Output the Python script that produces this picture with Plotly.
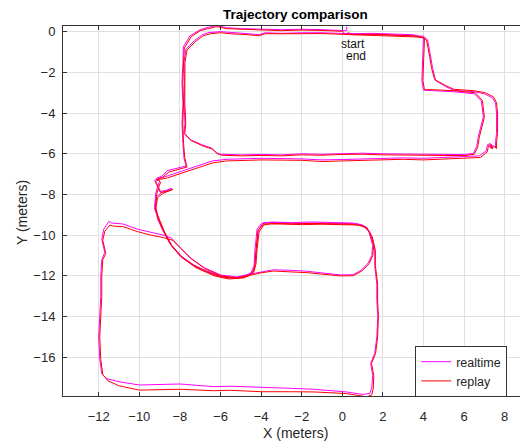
import plotly.graph_objects as go

# ---- data ----
realtime_points = [
    (0.22, 0.25), (0.22, 0.05), (-1.0, 0.1), (-2.0, 0.12), (-3.0, 0.1), (-4.0, 0.12), (-5.0, 0.15),
    (-5.7, 0.2), (-6.2, 0.3), (-6.6, 0.22), (-7.0, 0.1), (-7.5, -0.2), (-7.83, -0.74), (-7.85, -1.5),
    (-7.9, -2.5), (-7.85, -3.5), (-7.9, -4.5), (-7.85, -5.5), (-7.8, -6.2), (-7.7, -6.6), (-8.2, -6.72),
    (-8.6, -6.82), (-8.9, -7.1), (-9.15, -7.2), (-9.0, -7.35), (-9.1, -7.6), (-9.0, -7.85), (-8.7, -7.8),
    (-8.4, -7.7), (-8.9, -7.9), (-9.15, -8.1), (-9.23, -8.6), (-9.1, -9.2), (-8.85, -9.75), (-8.5, -10.4),
    (-8.0, -11.0), (-7.35, -11.45), (-6.7, -11.75), (-6.0, -12.0), (-5.3, -12.1), (-4.7, -12.0),
    (-4.4, -11.8), (-4.3, -11.4), (-4.25, -10.7), (-4.15, -9.8), (-3.9, -9.38), (-3.0, -9.38),
    (-2.0, -9.42), (-1.0, -9.4), (0.0, -9.42), (0.8, -9.45), (1.2, -9.6), (1.45, -10.05), (1.6, -10.7),
    (1.6, -11.5), (1.7, -12.4), (1.7, -13.2), (1.75, -14.0), (1.7, -15.0), (1.6, -15.8), (1.4, -16.3),
    (1.5, -16.9), (1.45, -17.5), (1.36, -17.78), (1.0, -17.82), (0.2, -17.7), (-1.4, -17.57),
    (-2.6, -17.52), (-4.0, -17.47), (-5.5, -17.42), (-6.35, -17.44), (-8.0, -17.31), (-10.0, -17.36),
    (-11.0, -17.2), (-11.6, -17.05), (-11.85, -16.8), (-11.95, -16.1), (-12.0, -15.0), (-11.95, -14.0),
    (-11.9, -13.0), (-11.9, -12.0), (-11.85, -11.2), (-11.7, -10.85), (-11.85, -10.2), (-11.75, -9.7),
    (-11.5, -9.32), (-11.35, -9.4), (-10.8, -9.45), (-10.1, -9.7), (-9.5, -9.85), (-8.8, -10.0),
    (-8.4, -10.15), (-8.0, -10.6), (-7.5, -11.1), (-6.8, -11.6), (-6.0, -11.95), (-5.2, -12.05),
    (-4.5, -11.9), (-4.0, -11.8), (-3.4, -11.7), (-2.6, -11.72), (-1.75, -11.77), (-0.1, -11.95),
    (0.54, -11.94), (0.96, -11.7), (1.28, -11.36), (1.45, -11.0), (1.5, -10.5), (1.3, -9.8), (1.0, -9.5),
    (0.5, -9.4), (-0.5, -9.38), (-1.5, -9.35), (-2.5, -9.38), (-3.5, -9.35), (-4.0, -9.45), (-4.2, -9.7),
    (-4.3, -10.7), (-4.35, -11.5), (-4.5, -11.85), (-4.9, -12.05), (-5.6, -12.1), (-6.3, -11.95),
    (-7.2, -11.55), (-7.9, -11.05), (-8.4, -10.5), (-8.8, -9.8), (-9.05, -9.2), (-9.25, -8.7),
    (-9.2, -8.0), (-9.1, -7.6), (-9.25, -7.3), (-9.0, -7.2), (-8.65, -7.1), (-8.0, -6.88), (-7.0, -6.52),
    (-6.4, -6.35), (-5.7, -6.27), (-4.0, -6.22), (-2.0, -6.25), (-1.0, -6.3), (0.0, -6.28), (1.0, -6.25),
    (2.0, -6.22), (3.0, -6.2), (4.0, -6.22), (5.0, -6.18), (6.1, -6.15), (6.75, -6.1), (7.1, -5.85),
    (7.15, -5.55), (7.3, -5.5), (7.35, -5.7), (7.25, -5.65), (7.45, -5.6), (7.55, -5.7), (7.55, -5.4),
    (7.6, -5.0), (7.6, -4.0), (7.55, -3.5), (7.4, -3.25), (7.0, -3.05), (6.5, -2.95), (5.5, -2.88),
    (5.1, -2.7), (4.6, -2.4), (4.45, -1.8), (4.35, -1.2), (4.2, -0.4), (4.0, -0.22), (3.0, -0.18),
    (2.0, -0.15), (1.0, -0.12), (0.2, -0.1), (-1.0, -0.05), (-2.0, -0.05), (-3.0, -0.08), (-3.8, -0.05),
    (-4.1, -0.15), (-4.6, -0.1), (-5.5, -0.05), (-6.0, 0.0), (-6.56, -0.04), (-6.9, -0.15), (-7.3, -0.45),
    (-7.7, -0.86), (-7.8, -1.5), (-7.78, -2.5), (-7.8, -3.5), (-7.75, -4.5), (-7.8, -5.0), (-7.5, -5.3),
    (-6.93, -5.55), (-6.43, -5.72), (-6.2, -5.95), (-6.0, -6.02), (-5.0, -6.05), (-4.0, -6.03),
    (-3.0, -6.05), (-2.0, -6.0), (-1.0, -6.02), (0.0, -5.98), (1.0, -5.97), (2.0, -6.0), (3.0, -6.0),
    (4.0, -6.02), (5.0, -6.03), (6.0, -6.04), (6.45, -5.98), (6.62, -5.65), (6.7, -5.16), (6.95, -4.18),
    (6.85, -3.4), (6.5, -3.05), (5.5, -2.95), (4.5, -2.9), (4.0, -2.87), (3.92, -2.4), (3.97, -1.5),
    (4.0, -0.3), (3.5, -0.15), (2.5, -0.1), (1.5, -0.08), (0.5, -0.1), (0.25, -0.05),
]

replay_points = [
    (0.1, -0.05), (0.0, 0.02), (-1.0, 0.06), (-2.0, 0.08), (-3.0, 0.05), (-4.0, 0.08), (-5.0, 0.1),
    (-5.7, 0.15), (-6.2, 0.25), (-6.6, 0.16), (-7.0, 0.05), (-7.45, -0.25), (-7.78, -0.8), (-7.82, -1.5),
    (-7.86, -2.5), (-7.82, -3.5), (-7.86, -4.5), (-7.82, -5.5), (-7.76, -6.2), (-7.65, -6.65),
    (-8.2, -6.78), (-8.55, -6.9), (-8.85, -7.15), (-9.1, -7.25), (-8.95, -7.4), (-9.05, -7.65),
    (-8.95, -7.9), (-8.65, -7.85), (-8.35, -7.75), (-8.85, -7.95), (-9.1, -8.15), (-9.18, -8.65),
    (-9.05, -9.25), (-8.8, -9.8), (-8.45, -10.45), (-7.95, -11.05), (-7.3, -11.5), (-6.65, -11.8),
    (-5.95, -12.05), (-5.25, -12.12), (-4.65, -12.02), (-4.35, -11.8), (-4.25, -11.4), (-4.2, -10.7),
    (-4.1, -9.85), (-3.85, -9.45), (-3.0, -9.45), (-2.0, -9.48), (-1.0, -9.46), (0.0, -9.47), (0.8, -9.5),
    (1.22, -9.65), (1.48, -10.1), (1.63, -10.75), (1.63, -11.5), (1.74, -12.4), (1.74, -13.2),
    (1.78, -14.0), (1.74, -15.0), (1.64, -15.8), (1.44, -16.3), (1.55, -16.9), (1.53, -17.5),
    (1.45, -17.85), (1.2, -17.94), (0.2, -17.78), (-1.4, -17.7), (-2.6, -17.69), (-4.0, -17.69),
    (-5.5, -17.62), (-6.35, -17.64), (-8.0, -17.57), (-10.0, -17.61), (-11.0, -17.4), (-11.55, -17.15),
    (-11.8, -16.85), (-11.9, -16.1), (-11.95, -15.0), (-11.9, -14.0), (-11.85, -13.0), (-11.85, -12.0),
    (-11.8, -11.2), (-11.65, -10.9), (-11.8, -10.25), (-11.7, -9.8), (-11.45, -9.5), (-11.3, -9.55),
    (-10.8, -9.58), (-10.1, -9.82), (-9.5, -9.98), (-8.8, -10.12), (-8.35, -10.25), (-7.95, -10.65),
    (-7.45, -11.15), (-6.75, -11.65), (-5.95, -12.0), (-5.2, -12.1), (-4.5, -11.95), (-4.0, -11.85),
    (-3.4, -11.76), (-2.6, -11.8), (-1.75, -11.84), (-0.1, -12.0), (0.54, -11.99), (0.98, -11.75),
    (1.32, -11.4), (1.5, -11.0), (1.55, -10.5), (1.35, -9.85), (1.05, -9.55), (0.5, -9.46), (-0.5, -9.44),
    (-1.5, -9.42), (-2.5, -9.44), (-3.5, -9.42), (-3.95, -9.52), (-4.15, -9.75), (-4.25, -10.7),
    (-4.3, -11.5), (-4.45, -11.9), (-4.85, -12.1), (-5.6, -12.15), (-6.3, -12.0), (-7.2, -11.6),
    (-7.9, -11.1), (-8.4, -10.55), (-8.75, -9.85), (-9.0, -9.25), (-9.2, -8.75), (-9.15, -8.0),
    (-9.05, -7.65), (-9.2, -7.35), (-8.95, -7.25), (-8.6, -7.18), (-8.0, -6.98), (-7.0, -6.62),
    (-6.4, -6.45), (-5.7, -6.35), (-4.0, -6.3), (-2.0, -6.32), (-1.0, -6.38), (0.0, -6.35), (1.0, -6.32),
    (2.0, -6.3), (3.0, -6.27), (4.0, -6.3), (5.0, -6.25), (6.1, -6.22), (6.8, -6.18), (7.15, -5.9),
    (7.2, -5.6), (7.35, -5.55), (7.4, -5.75), (7.3, -5.7), (7.5, -5.65), (7.6, -5.75), (7.6, -5.4),
    (7.65, -5.0), (7.65, -4.0), (7.6, -3.5), (7.45, -3.2), (7.05, -3.0), (6.5, -2.9), (5.5, -2.83),
    (5.1, -2.65), (4.55, -2.35), (4.4, -1.8), (4.3, -1.2), (4.15, -0.4), (3.95, -0.27), (3.0, -0.22),
    (2.0, -0.2), (1.0, -0.17), (0.2, -0.14), (-1.0, -0.09), (-2.0, -0.1), (-3.0, -0.12), (-3.8, -0.1),
    (-4.1, -0.2), (-4.6, -0.15), (-5.5, -0.1), (-6.0, -0.05), (-6.5, -0.1), (-6.85, -0.2), (-7.25, -0.5),
    (-7.65, -0.9), (-7.75, -1.5), (-7.74, -2.5), (-7.76, -3.5), (-7.71, -4.5), (-7.76, -5.0),
    (-7.46, -5.34), (-6.9, -5.6), (-6.4, -5.77), (-6.15, -6.0), (-5.95, -6.07), (-5.0, -6.1),
    (-4.0, -6.08), (-3.0, -6.1), (-2.0, -6.05), (-1.0, -6.07), (0.0, -6.03), (1.0, -6.02), (2.0, -6.05),
    (3.0, -6.05), (4.0, -6.07), (5.0, -6.08), (6.0, -6.09), (6.5, -6.02), (6.67, -5.68), (6.75, -5.18),
    (7.0, -4.2), (6.9, -3.38), (6.55, -3.0), (5.5, -2.9), (4.5, -2.85), (4.05, -2.85), (3.97, -2.4),
    (4.02, -1.5), (4.05, -0.32), (3.5, -0.2), (2.5, -0.15), (1.5, -0.12), (0.5, -0.14), (0.2, -0.1),
]

series_names = ["realtime", "replay"]
series_colors = ["#FF00FF", "#FF0000"]
tick_values = [-12, -10, -8, -6, -4, -2, 0, 2, 4, 6, 8]
ytick_values = [0, -2, -4, -6, -8, -10, -12, -14, -16]
start_label = ("start", 0.52, -0.58)
end_label = ("end", 0.68, -1.17)

FONT = "Liberation Sans, Arial, Helvetica, sans-serif"
TXT = "#262626"

fig = go.Figure()
for name, color, pts in zip(series_names, series_colors, [realtime_points, replay_points]):
    fig.add_trace(go.Scatter(
        x=[p[0] for p in pts], y=[p[1] for p in pts], mode="lines", name=name,
        line=dict(color=color, width=1.0),
    ))

for txt, tx, ty in [start_label, end_label]:
    fig.add_annotation(x=tx, y=ty, text=txt, showarrow=False, xanchor="center", yanchor="middle",
                       font=dict(family=FONT, size=12, color="#111111"))

fig.add_annotation(xref="paper", yref="paper", x=0.5, y=1.032, text="<b>Trajectory comparison</b>",
                   showarrow=False, xanchor="center", yanchor="middle",
                   font=dict(family=FONT, size=13.5, color="#000000"))
fig.add_annotation(xref="paper", yref="paper", x=0.5, y=-0.1, text="X (meters)",
                   showarrow=False, xanchor="center", yanchor="middle",
                   font=dict(family=FONT, size=14, color=TXT))
fig.add_annotation(xref="paper", yref="paper", x=-0.088, y=0.495, text="Y (meters)", textangle=-90,
                   showarrow=False, xanchor="center", yanchor="middle",
                   font=dict(family=FONT, size=14, color=TXT))

# the page body has an 8px default margin, so the figure is sized/offset to compensate
fig.update_layout(
    width=520, height=436,
    margin=dict(l=55, r=1, t=18, b=48),
    paper_bgcolor="white", plot_bgcolor="white",
    showlegend=True,
    legend=dict(x=0.759, y=0.135, xanchor="left", yanchor="top",
                bgcolor="white", bordercolor="#333333", borderwidth=1,
                font=dict(family=FONT, size=12.5, color=TXT),
                tracegroupgap=0, itemwidth=30),
    font=dict(family=FONT, size=12.5, color=TXT),
)
fig.update_xaxes(range=[-13.76, 9.1], tickvals=tick_values, ticks="inside", ticklen=4,
                 tickcolor="#333333", showline=True, linecolor="#333333", linewidth=1,
                 mirror="ticks", showgrid=True, gridcolor="#e0e0e0", gridwidth=1,
                 zeroline=False, ticklabelstandoff=8,
                 tickfont=dict(family=FONT, size=13, color=TXT))
fig.update_yaxes(range=[-17.9, 0.28], tickvals=ytick_values, ticks="inside", ticklen=4,
                 tickcolor="#333333", showline=True, linecolor="#333333", linewidth=1,
                 mirror=False, showgrid=True, gridcolor="#e0e0e0", gridwidth=1,
                 zeroline=False, ticklabelstandoff=4,
                 tickfont=dict(family=FONT, size=13, color=TXT))

fig.write_html("out.html")
